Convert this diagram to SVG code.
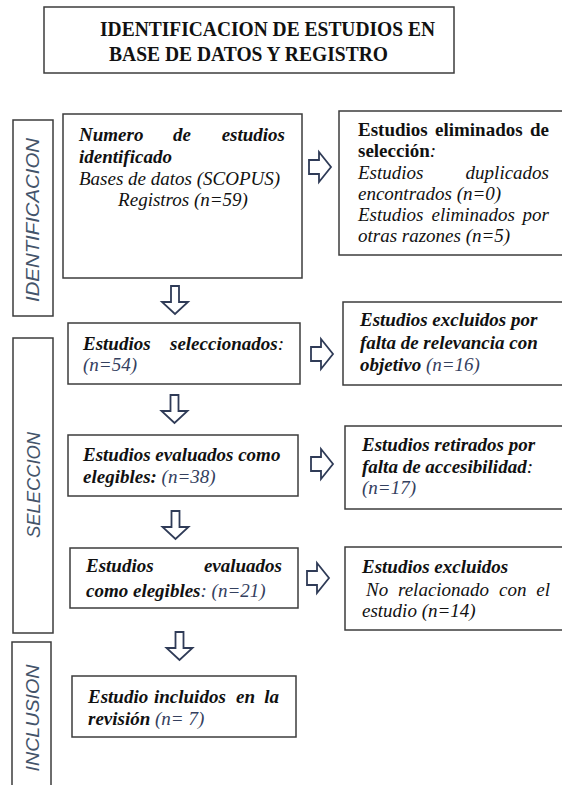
<svg xmlns="http://www.w3.org/2000/svg" xmlns:xlink="http://www.w3.org/1999/xlink" width="562" height="785" viewBox="0 0 562 785">
<style>
.box{fill:#fff;stroke:#3c3c3c;stroke-width:1.5}
.t{font-family:"Liberation Serif","Times New Roman",serif;font-size:19px;fill:#111}
.ttl{font-family:"Liberation Serif","Times New Roman",serif;font-size:20px;font-weight:bold;fill:#111}
.bi{font-weight:bold;font-style:italic}
.i{font-style:italic}
.b{font-weight:bold}
.n{fill:#34405e}
.side{font-family:"Liberation Sans",Arial,sans-serif;font-size:18.5px;font-style:italic;fill:#44546a}
.arrow{fill:#fff;stroke:#2f3b57;stroke-width:1.8;stroke-linejoin:miter}
</style>
<defs>
<path id="dn" d="M-4,0 H4 V16 H13 L0,28 L-13,16 H-4 Z"/>
<path id="rt" d="M0,-7 H10 V-15 L22,0 L10,15 V7 H0 Z"/>
</defs>
<rect width="562" height="785" fill="#fff"/>

<g id="title">
<rect class="box" x="44" y="7" width="410" height="66"/>
<text class="ttl" x="100" y="36" textLength="335" lengthAdjust="spacingAndGlyphs">IDENTIFICACION DE ESTUDIOS EN</text>
<text class="ttl" x="109" y="61" textLength="279" lengthAdjust="spacingAndGlyphs">BASE DE DATOS Y REGISTRO</text>
</g>

<g id="lbl-identificacion">
<rect class="box" x="13" y="120" width="40" height="196"/>
<text class="side" transform="translate(39,220) rotate(-90)" text-anchor="middle" textLength="164" lengthAdjust="spacingAndGlyphs">IDENTIFICACION</text>
</g>
<g id="lbl-seleccion">
<rect class="box" x="13" y="338" width="40" height="295"/>
<text class="side" transform="translate(40,485) rotate(-90)" text-anchor="middle" textLength="106" lengthAdjust="spacingAndGlyphs">SELECCION</text>
</g>
<g id="lbl-inclusion">
<rect class="box" x="12" y="642" width="39" height="160"/>
<text class="side" transform="translate(39,718) rotate(-90)" text-anchor="middle" textLength="107" lengthAdjust="spacingAndGlyphs">INCLUSION</text>
</g>

<g id="n-identificados">
<rect class="box" x="63" y="114" width="239" height="164"/>
<text class="t bi" y="141"><tspan x="79">Numero</tspan><tspan x="173">de</tspan><tspan x="285" text-anchor="end">estudios</tspan></text>
<text class="t bi" x="79" y="163">identificado</text>
<text class="t i" x="79" y="185">Bases de datos (SCOPUS)</text>
<text class="t i" x="183" y="206" text-anchor="middle">Registros (n=59)</text>
</g>

<g id="n-eliminados">
<rect class="box" x="339" y="111" width="235" height="144"/>
<text class="t b" y="136"><tspan x="358">Estudios</tspan><tspan x="435">eliminados</tspan><tspan x="549" text-anchor="end">de</tspan></text>
<text class="t" x="358" y="157"><tspan class="b">selección</tspan><tspan class="i">:</tspan></text>
<text class="t i" y="179"><tspan x="358">Estudios</tspan><tspan x="549" text-anchor="end">duplicados</tspan></text>
<text class="t i" x="358" y="200">encontrados (n=0)</text>
<text class="t i" y="221"><tspan x="358">Estudios</tspan><tspan x="431.5">eliminados</tspan><tspan x="549" text-anchor="end">por</tspan></text>
<text class="t i" x="358" y="242">otras razones (n=5)</text>
</g>

<g id="n-seleccionados">
<rect class="box" x="68" y="323" width="232" height="61"/>
<text class="t" y="350"><tspan class="bi" x="83">Estudios</tspan><tspan class="bi" x="170">seleccionados</tspan><tspan class="i">:</tspan></text>
<text class="t i n" x="83" y="371">(n=54)</text>
</g>

<g id="n-excluidos-relevancia">
<rect class="box" x="343" y="302" width="231" height="83"/>
<text class="t bi" x="360" y="326">Estudios excluidos por</text>
<text class="t bi" x="360" y="349">falta de relevancia con</text>
<text class="t" x="360" y="371"><tspan class="bi">objetivo</tspan><tspan class="i n"> (n=16)</tspan></text>
</g>

<g id="n-elegibles-38">
<rect class="box" x="68" y="435" width="230" height="61"/>
<text class="t bi" x="83" y="461">Estudios evaluados como</text>
<text class="t" x="83" y="483"><tspan class="bi">elegibles:</tspan><tspan class="i n"> (n=38)</tspan></text>
</g>

<g id="n-retirados">
<rect class="box" x="345" y="426" width="229" height="83"/>
<text class="t bi" x="362" y="451">Estudios retirados por</text>
<text class="t" x="362" y="473"><tspan class="bi">falta de accesibilidad</tspan><tspan class="i">:</tspan></text>
<text class="t i n" x="362" y="494">(n=17)</text>
</g>

<g id="n-elegibles-21">
<rect class="box" x="70" y="548" width="228" height="60"/>
<text class="t bi" y="572"><tspan x="86">Estudios</tspan><tspan x="282" text-anchor="end">evaluados</tspan></text>
<text class="t" x="86" y="597"><tspan class="bi">como elegibles</tspan><tspan class="i n">: (n=21)</tspan></text>
</g>

<g id="n-excluidos-estudio">
<rect class="box" x="345" y="547" width="229" height="83"/>
<text class="t bi" x="362" y="573">Estudios excluidos</text>
<text class="t i" y="596"><tspan x="366">No</tspan><tspan x="398">relacionado</tspan><tspan x="499">con</tspan><tspan x="550" text-anchor="end">el</tspan></text>
<text class="t i" x="362" y="617">estudio (n=14)</text>
</g>

<g id="n-incluidos">
<rect class="box" x="72" y="676" width="224" height="61"/>
<text class="t bi" y="703"><tspan x="88">Estudio</tspan><tspan x="154">incluidos</tspan><tspan x="236">en</tspan><tspan x="279" text-anchor="end">la</tspan></text>
<text class="t" x="88" y="725"><tspan class="bi">revisión</tspan><tspan class="i n"> (n= 7)</tspan></text>
</g>

<g id="connectors">
<use href="#dn" xlink:href="#dn" class="arrow" x="175" y="286"/>
<use href="#dn" xlink:href="#dn" class="arrow" x="174.5" y="395"/>
<use href="#dn" xlink:href="#dn" class="arrow" x="175.5" y="511"/>
<use href="#dn" xlink:href="#dn" class="arrow" x="179.5" y="632"/>
<use href="#rt" xlink:href="#rt" class="arrow" x="309" y="167"/>
<use href="#rt" xlink:href="#rt" class="arrow" x="311" y="354"/>
<use href="#rt" xlink:href="#rt" class="arrow" x="311" y="464"/>
<use href="#rt" xlink:href="#rt" class="arrow" x="307" y="578"/>
</g>
</svg>
